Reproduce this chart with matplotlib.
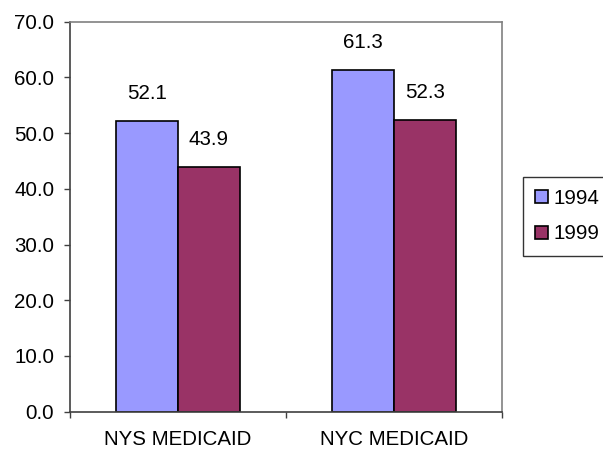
import matplotlib
matplotlib.use("Agg")
import matplotlib.pyplot as plt
import numpy as np

plt.rcParams['font.family'] = ['Liberation Sans', 'DejaVu Sans']

categories = ['NYS MEDICAID', 'NYC MEDICAID']
years = ['1994', '1999']
vals_1994 = [52.1, 61.3]
vals_1999 = [43.9, 52.3]
colors = ['#9999FF', '#993366']

fs = 14.8
fig = plt.figure(figsize=(6.03, 4.54), dpi=100)
ax = fig.add_axes([70/603, 1 - 411.7/454, 432/603, 390/454])

x = np.arange(len(categories)) + 0.5
w = 0.287
b1 = ax.bar(x - w/2, vals_1994, w, color=colors[0], edgecolor='black', linewidth=1.2, label=years[0])
b2 = ax.bar(x + w/2, vals_1999, w, color=colors[1], edgecolor='black', linewidth=1.2, label=years[1])

# value labels above each bar
for bars in (b1, b2):
    for r in bars:
        h = r.get_height()
        ax.annotate(f'{h:.1f}', (r.get_x() + r.get_width()/2, h), xytext=(0, 20),
                    textcoords='offset points', ha='center', va='center', fontsize=fs)

ax.set_xlim(0, 2)
ax.set_ylim(0, 70)
ax.set_yticks(np.arange(0, 71, 10))
ax.set_yticklabels([f'{v:.1f}' for v in np.arange(0, 71, 10)])
ax.set_xticks([0, 1, 2])
ax.set_xticklabels([])
ax.set_xticks(x, minor=True)
ax.set_xticklabels(categories, minor=True)
ax.tick_params(axis='x', which='minor', length=0, pad=13, labelsize=fs)
ax.tick_params(axis='x', which='major', length=4.3, width=1, color='#404040')
ax.tick_params(axis='y', length=4.3, width=1, color='#404040', pad=7, labelsize=fs)

for s in ('top', 'right'):
    ax.spines[s].set_color('#808080')
    ax.spines[s].set_linewidth(1.2)
for s in ('left', 'bottom'):
    ax.spines[s].set_color('#404040')
    ax.spines[s].set_linewidth(1.2)

leg = ax.legend(loc='upper left', bbox_to_anchor=(523/603, 1 - 176.7/454), bbox_transform=fig.transFigure,
                fontsize=fs, frameon=True, fancybox=False, borderaxespad=0, borderpad=0.6,
                handlelength=0.6, handleheight=0.6, handletextpad=0.3, labelspacing=0.8)
leg.get_frame().set_edgecolor('black')
leg.get_frame().set_linewidth(1.0)

fig.savefig('out.png', dpi=100)
